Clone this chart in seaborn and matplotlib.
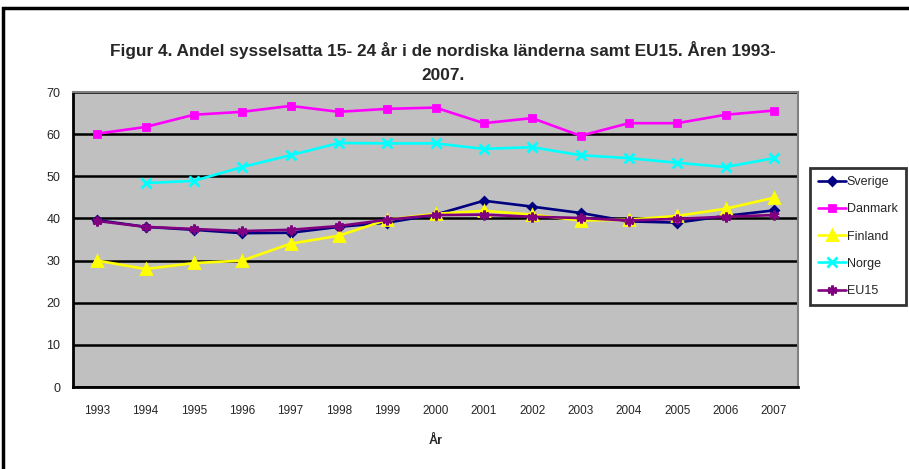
import numpy as np
import pandas as pd
import matplotlib
matplotlib.use('Agg')
import matplotlib.pyplot as plt
from matplotlib.patches import Rectangle
import seaborn as sns

# data
years = list(range(1993, 2008))
sverige = [39.6, 38.0, 37.3, 36.5, 36.6, 38.0, 39.0, 40.9, 44.2, 42.8, 41.3, 39.3, 39.0, 40.6, 41.9]
danmark = [60.1, 61.7, 64.6, 65.3, 66.7, 65.3, 66.0, 66.3, 62.6, 63.8, 59.6, 62.6, 62.6, 64.6, 65.6]
finland = [30.0, 28.0, 29.4, 30.0, 34.0, 35.9, 39.7, 41.1, 41.8, 40.9, 39.5, 39.7, 40.6, 42.3, 44.9]
norge = [np.nan, 48.4, 48.9, 52.2, 55.0, 57.9, 57.8, 57.8, 56.5, 56.9, 55.0, 54.3, 53.2, 52.2, 54.3]
eu15 = [39.4, 38.0, 37.5, 37.0, 37.3, 38.2, 39.7, 40.8, 40.9, 40.4, 40.1, 39.5, 39.9, 40.4, 40.8]

series_names = ['Sverige', 'Danmark', 'Finland', 'Norge', 'EU15']
series_vals = [sverige, danmark, finland, norge, eu15]
colors = ['#000080', '#FF00FF', '#FFFF00', '#00FFFF', '#800080']
markers = ['D', 's', '^', 'x', (6, 2, 0)]
msizes = [4.5, 4.5, 6.5, 6.5, 7]

title = 'Figur 4. Andel sysselsatta 15- 24 år i de nordiska länderna samt EU15. Åren 1993-\n2007.'

sns.set_style('white')
plt.rcParams['font.family'] = ['Liberation Sans', 'DejaVu Sans']

fig = plt.figure(figsize=(9.09, 4.69), dpi=100)
ax = fig.add_axes([73 / 909, 1 - 387 / 469, (798 - 73) / 909, (387 - 92) / 469])
ax.set_facecolor('#C0C0C0')

for name, vals, c, m, ms in zip(series_names, series_vals, colors, markers, msizes):
    df = pd.DataFrame({'year': years, 'value': vals}).dropna()
    sns.lineplot(data=df, x='year', y='value', color=c, marker=m, markersize=ms,
                 markeredgecolor=c, markerfacecolor=c, markeredgewidth=2,
                 linewidth=1.9, label=name, ax=ax, zorder=3)

# axes styling, Excel look
ax.set_xlim(1992.5, 2007.5)
ax.set_ylim(0, 70)
ax.set_yticks(range(0, 71, 10))
ax.set_xticks(years)
ax.set_xticklabels([str(y) for y in years], fontsize=8.5)
ax.set_xticks(np.arange(1992.5, 2008, 1), minor=True)
ax.tick_params(axis='x', which='major', length=0, pad=13)
ax.tick_params(axis='x', which='minor', length=5, width=1.5, color='black', direction='out')
ax.tick_params(axis='y', length=4, width=1.5, color='black', direction='out', labelsize=9, pad=5)
ax.yaxis.grid(True, color='black', linewidth=1.8, zorder=1)
ax.set_axisbelow(True)
for side in ['left', 'bottom']:
    ax.spines[side].set_color('black')
    ax.spines[side].set_linewidth(2)
for side in ['top', 'right']:
    ax.spines[side].set_color('#808080')
    ax.spines[side].set_linewidth(1.5)

ax.set_xlabel('År', fontsize=9, fontweight='bold', labelpad=13)
ax.set_ylabel('')

fig.text(443 / 909, 1 - 62 / 469, title, ha='center', va='center', fontsize=12.4,
         fontweight='bold', linespacing=1.8)

handles, labels = ax.get_legend_handles_labels()
leg = ax.legend(handles, labels, loc='upper left', bbox_to_anchor=(810 / 909, 1 - 168 / 469),
                bbox_transform=fig.transFigure, frameon=True, fancybox=False,
                fontsize=9, handlelength=2.2, handletextpad=0.1, labelspacing=1.22,
                borderpad=0.65, borderaxespad=0, numpoints=1)
leg.get_frame().set_edgecolor('black')
leg.get_frame().set_linewidth(2)
leg.get_frame().set_facecolor('white')

# outer chart border
fig.patches.append(Rectangle((3 / 909, -0.05), 1.2, 1 - 8 / 469 + 0.05, transform=fig.transFigure,
                             fill=False, edgecolor='black', linewidth=2.5))

fig.savefig('out.png', dpi=100)
